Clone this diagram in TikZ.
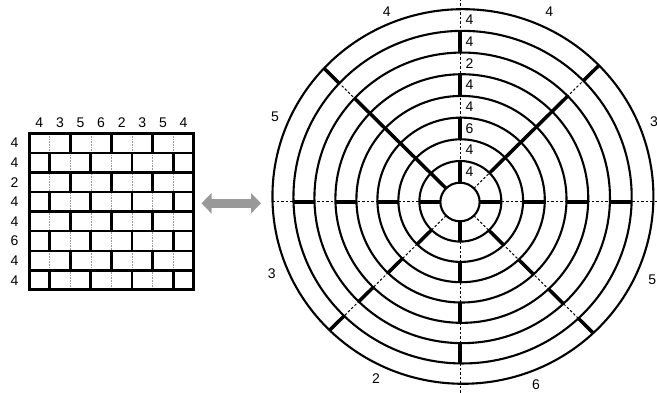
\documentclass[tikz,border=0pt]{standalone}
\usepackage{fontspec}
\setmainfont{Liberation Sans}
\usetikzlibrary{arrows.meta, calc}

% one spoke piece at angle #2, from circle #3 out to circle #4 (ring scope units)
\newcommand{\spokerange}[4]{%
  \pgfmathsetmacro{\spa}{\rin+(#3)*(\rstep+\ringdx*cos(#2)+\ringdy*sin(#2))}%
  \pgfmathsetmacro{\spb}{\rin+(#4)*(\rstep+\ringdx*cos(#2)+\ringdy*sin(#2))}%
  \draw[#1] (#2:\spa) -- (#2:\spb);}

\begin{document}
\begin{tikzpicture}[
  x=1pt, y=1pt,
  font=\fontsize{14}{16}\selectfont,
  frame/.style={line width=3pt, black},
  rowline/.style={line width=2.3pt, black},
  wall/.style={line width=2.7pt, black},
  seam/.style={line width=0.6pt, black!40, densely dotted},
  ring/.style={line width=2.1pt, black},
  spoke/.style={line width=3.5pt, black},
  gap/.style={line width=1pt, black, dash pattern=on 2.5pt off 2pt},
  numlbl/.style={inner sep=0pt, anchor=center},
  swap/.style={line width=9pt, black!40,
    {Triangle[length=10pt,width=20pt]}-{Triangle[length=10pt,width=20pt]}},
]
\useasboundingbox (0,0) rectangle (657,393);

% ---- geometry ----
\def\gx{29}     % grid left
\def\gy{103}    % grid bottom
\def\cw{20.6}   % cell width
\def\ch{19.6}   % cell height
\def\rin{19.3}  % hub radius
\def\rstep{21}  % ring width
\def\ringdx{0.36}
\def\ringdy{0.69}

% =====================================================
% BRICK GRID
% =====================================================
\foreach \c in {1,...,7}
  \draw[seam] ({\gx+\c*\cw},\gy) -- ++(0,8*\ch);
% walls: odd rows split after 2,4,6 -- even rows after 1,3,5,7
\foreach \r in {1,3,5,7} \foreach \c in {2,4,6}
  \draw[wall] ({\gx+\c*\cw},{\gy+(8-\r)*\ch}) -- ++(0,\ch);
\foreach \r in {2,4,6,8} \foreach \c in {1,3,5,7}
  \draw[wall] ({\gx+\c*\cw},{\gy+(8-\r)*\ch}) -- ++(0,\ch);
\foreach \r in {1,...,7}
  \draw[rowline] (\gx,{\gy+\r*\ch}) -- ++(8*\cw,0);
\draw[frame] (\gx,\gy) rectangle ++(8*\cw,8*\ch);

\foreach \lab [count=\c] in {4,3,5,6,2,3,5,4}
  \node[numlbl] (col\c) at ({\gx+(\c-0.5)*\cw},270.5) {\lab};
\foreach \lab [count=\r] in {4,4,2,4,4,6,4,4}
  \node[numlbl] (row\r) at (14.5,{\gy+(8.5-\r)*\ch}) {\lab};

% =====================================================
% SWAP ARROW
% =====================================================
\coordinate (swapL) at (201.5,189.7);
\coordinate (swapR) at (261,189.7);
\draw[swap] (swapL) -- (swapR);

% =====================================================
% RING WALL (rings slightly off-centre, as drawn)
% =====================================================
\begin{scope}[shift={(460,191)}, xscale=1.017]
  \coordinate (hub) at (0,0);
  \pgfmathsetmacro{\rwest}{\rin+8*(\rstep-\ringdx)}
  % dashed axes and diagonals
  \draw[gap] (0,-200) -- (0,210);
  \draw[gap] (-\rwest,0) -- (200,0);
  \foreach \a in {45,135,225,315}
    \spokerange{gap}{\a}{0}{8};
  \fill[white] (hub) circle[radius=\rin];

  % thick spokes
  \foreach \a in {0,90,180,270} \foreach \i in {1,3,5,7}
    {\spokerange{spoke}{\a}{\i-1}{\i}}
  \foreach \a in {225,315} \foreach \i in {2,4,6,8}
    {\spokerange{spoke}{\a}{\i-1}{\i}}
  \foreach \i in {2,3,4,5,6,8}
    {\spokerange{spoke}{45}{\i-1}{\i}}
  \foreach \i in {1,2,3,4,5,6,8}
    {\spokerange{spoke}{135}{\i-1}{\i}}

  % circles
  \foreach \i in {0,...,8}
    \draw[ring] (\ringdx*\i,\ringdy*\i) circle[radius=\rin+\rstep*\i];

  % ring labels along the top axis (inner to outer)
  \foreach \lab [count=\i] in {4,4,6,4,4,2,4,4}
    \node[numlbl, anchor=west] (ring\i)
      at (5.4,{\rin+(\i-0.5)*(\rstep+\ringdy)}) {\lab};
\end{scope}

% sector labels round the outside
\foreach \px/\py/\lab [count=\k] in {549.3/381.3/4, 654/271.3/3, 652.3/113/5,
    536/8/6, 376/14.7/2, 271.7/119.7/3, 275/276.3/5, 386.7/381.3/4}
  \node[numlbl] (sec\k) at (\px,\py) {\lab};

\end{tikzpicture}
\end{document}
